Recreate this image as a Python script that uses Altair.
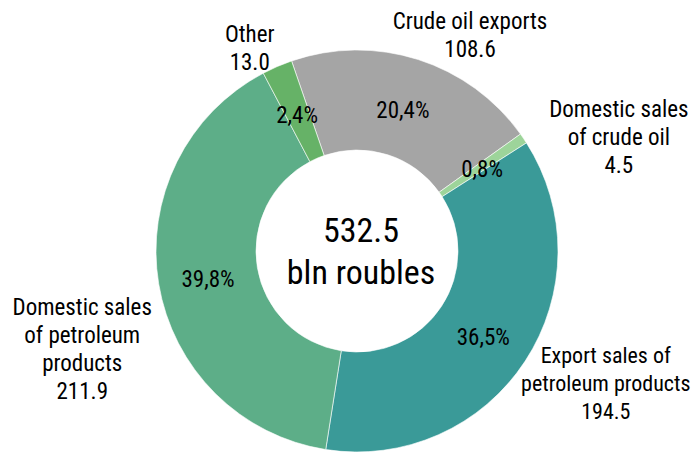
import math
import altair as alt
import pandas as pd

# ---- data ----
categories = [
    "Crude oil exports",
    "Domestic sales of crude oil",
    "Export sales of petroleum products",
    "Domestic sales of petroleum products",
    "Other",
]
values = [108.6, 4.5, 194.5, 211.9, 13.0]
pct_labels = ["20,4%", "0,8%", "36,5%", "39,8%", "2,4%"]
outer_labels = [
    ["Crude oil exports", "108.6"],
    ["Domestic sales", "of crude oil", "4.5"],
    ["Export sales of", "petroleum products", "194.5"],
    ["Domestic sales", "of petroleum", "products", "211.9"],
    ["Other", "13.0"],
]
center_text = ["532.5", "bln roubles"]

# ---- styles ----
colors = ["#A5A5A5", "#9DD49A", "#3A9A98", "#5DAE88", "#66B267"]
FONT = "Liberation Sans Narrow, Arial Narrow, Roboto Condensed, sans-serif"
CX, CY = 349, 243          # donut centre inside the view
R_OUT, R_IN = 201, 101
START = math.radians(-19)  # first slice starts a little left of 12 o'clock
# label nudges (like manually moved Excel data labels): dx, dy, font size
label_style = {
    "Crude oil exports": (40, 0, 23),
    "Domestic sales of crude oil": (63, -7, 23),
    "Export sales of petroleum products": (48, -26, 22),
    "Domestic sales of petroleum products": (-38, 18, 23),
    "Other": (-12, 4, 23),
}

df = pd.DataFrame({
    "cat": categories,
    "value": values,
    "pct": pct_labels,
    "label": outer_labels,
    "order": list(range(len(categories))),
})

theta_scale = alt.Scale(domain=[0, sum(values)], range=[START, START + 2 * math.pi])
theta = alt.Theta("value:Q", stack=True, scale=theta_scale)
order = alt.Order("order:O")
pos = dict(x=alt.value(CX), y=alt.value(CY))

base = alt.Chart(df)

arcs = base.mark_arc(innerRadius=R_IN, outerRadius=R_OUT, stroke="white", strokeWidth=0.6).encode(
    theta=theta,
    color=alt.Color("cat:N", scale=alt.Scale(domain=categories, range=colors), legend=None),
    order=order,
    **pos,
)

pct = base.mark_text(radius=151, font=FONT, fontSize=23, color="#000000", baseline="middle", dy=4).encode(
    theta=theta, order=order, text="pct:N", **pos
)

# stacked mid-angle computed before filtering each outer label
stacked = base.transform_stack(
    stack="value", groupby=[], as_=["v0", "v1"], sort=[alt.SortField("order")]
).transform_calculate(mid="(datum.v0 + datum.v1) / 2")

layers = [arcs, pct]
for cat in categories:
    dx, dy, fs = label_style[cat]
    layers.append(
        stacked.transform_filter(alt.datum.cat == cat)
        .mark_text(radius=240, font=FONT, fontSize=fs, lineHeight=28, color="#000000",
                   align="center", baseline="middle", dx=dx, dy=dy)
        .encode(theta=alt.Theta("mid:Q", stack=None, scale=theta_scale), text="label", **pos)
    )

center_df = pd.DataFrame({"t": [center_text]})
center = alt.Chart(center_df).mark_text(
    font=FONT, fontSize=34, lineHeight=42, color="#000000", align="center", baseline="middle"
).encode(text="t", x=alt.value(CX + 4), y=alt.value(CY - 19))

chart = alt.layer(*layers, center).properties(
    width=683, height=445, padding=0, autosize=alt.AutoSizeParams(type="none")
).configure_view(stroke=None)

chart.save("out.html", embed_options={"renderer": "svg", "actions": False})
